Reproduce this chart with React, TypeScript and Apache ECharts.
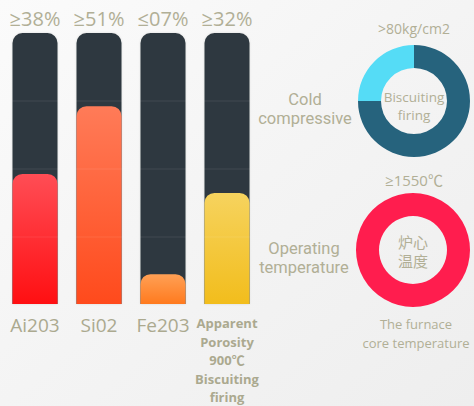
import React, { useEffect, useRef } from "react";
import * as echarts from "echarts";

const categories = ["Ai203", "Si02", "Fe203", "Apparent\nPorosity\n900℃\nBiscuiting\nfiring"];
const values = [48, 73, 11, 41];
const topLabels = ["≥38%", "≥51%", "≤07%", "≥32%"];
const maxValue = 100;
const gridLines = [25, 50, 75];
const barGradients = [
  ["#ff4d55", "#ff0f12"],
  ["#ff7b58", "#ff4a1c"],
  ["#ffa055", "#ff7a1e"],
  ["#f6d35e", "#f2bd1c"],
];
const compressiveShares = [75, 25];
const compressiveColors = ["#26637d", "#55dcf6"];
const temperatureShares = [100];
const temperatureColors = ["#ff1d4e"];

const FONT = "'Open Sans', 'Noto Sans CJK SC', sans-serif";
const FONT2 = "Roboto, 'Noto Sans CJK SC', sans-serif";
const TXT = "#b1af96";

function lines(texts: string[], x: number, yStart: number, step: number, fontSize: number, family = FONT) {
  return texts.map((t, i) => ({
    type: "text",
    x,
    y: yStart + i * step,
    style: { text: t, fontSize, fill: TXT, align: "center", verticalAlign: "middle", fontFamily: family },
  }));
}

export default function App() {
  const ref = useRef<HTMLDivElement>(null);
  useEffect(() => {
    const chart = echarts.init(ref.current!, undefined, { renderer: "svg" });
    const barData = values.map((v, i) => ({
      value: v,
      itemStyle: {
        color: new echarts.graphic.LinearGradient(0, 0, 0, 1, [
          { offset: 0, color: barGradients[i][0] },
          { offset: 1, color: barGradients[i][1] },
        ]),
      },
    }));
    chart.setOption({
      animation: false,
      backgroundColor: new echarts.graphic.LinearGradient(0, 0, 1, 1, [
        { offset: 0, color: "#fbfbfb" },
        { offset: 0.5, color: "#f4f4f4" },
        { offset: 1, color: "#eeeeee" },
      ]),
      textStyle: { fontFamily: FONT },
      grid: { left: 3, width: 256, top: 33, bottom: 102 },
      xAxis: {
        type: "category",
        data: categories,
        axisLine: { show: false },
        axisTick: { show: false },
        axisLabel: {
          margin: 10,
          interval: 0,
          formatter: (v: string, i: number) =>
            i === 3
              ? v.split("\n").map((l) => `{b|${l}}`).join("\n")
              : `{a|${v}}`,
          rich: {
            a: { fontSize: 19, lineHeight: 22, color: "#aba98f", fontFamily: FONT },
            b: { fontSize: 13, lineHeight: 18.5, color: "#aba98f", fontWeight: "bold", fontFamily: FONT },
          },
        },
      },
      yAxis: {
        type: "value",
        min: 0,
        max: maxValue,
        interval: 25,
        show: false,
        splitLine: { show: false },
      },
      series: [
        {
          type: "bar",
          data: categories.map(() => maxValue),
          barWidth: 45,
          barGap: "-100%",
          z: 2,
          silent: true,
          itemStyle: {
            color: "#2e393f",
            borderRadius: [10, 10, 0, 0],
            shadowColor: "rgba(0,0,0,0.12)",
            shadowBlur: 2,
          },
          label: {
            show: true,
            position: "top",
            distance: 5,
            formatter: (p: any) => topLabels[p.dataIndex],
            fontSize: 20,
            color: TXT,
            fontFamily: FONT,
          },
          markLine: {
            silent: true,
            symbol: "none",
            label: { show: false },
            lineStyle: { color: "rgba(255,255,255,0.06)", type: "solid", width: 1.5 },
            data: gridLines.map((y) => ({ yAxis: y })),
          },
        },
        {
          type: "bar",
          data: barData,
          barWidth: 45,
          z: 4,
          silent: true,
          itemStyle: { borderRadius: [10, 10, 0, 0] },
        },
        {
          type: "pie",
          center: [414, 101],
          radius: [33, 56],
          startAngle: 90,
          silent: true,
          label: { show: false },
          labelLine: { show: false },
          data: compressiveShares.map((v, i) => ({ value: v, itemStyle: { color: compressiveColors[i] } })),
        },
        {
          type: "pie",
          center: [413, 250],
          radius: [34, 57],
          silent: true,
          label: { show: false },
          labelLine: { show: false },
          data: temperatureShares.map((v, i) => ({ value: v, itemStyle: { color: temperatureColors[i] } })),
        },
      ],
      graphic: [
        ...lines([">80kg/cm2"], 414, 28, 0, 14),
        ...lines(["Biscuiting", "firing"], 414, 97, 18, 13.5),
        ...lines(["Cold", "compressive"], 305, 99.5, 19, 16.5, FONT2),
        ...lines(["≥1550℃"], 414, 180, 0, 15),
        ...lines(["炉心", "温度"], 413, 241.5, 19, 15),
        ...lines(["Operating", "temperature"], 304, 248.5, 19, 16.5, FONT2),
        ...lines(["The furnace", "core temperature"], 416, 324, 19, 13),
      ],
    });
    return () => chart.dispose();
  }, []);
  return (
    <div
      ref={ref}
      style={{ position: "fixed", left: 0, top: 0, width: 474, height: 406 }}
    />
  );
}
